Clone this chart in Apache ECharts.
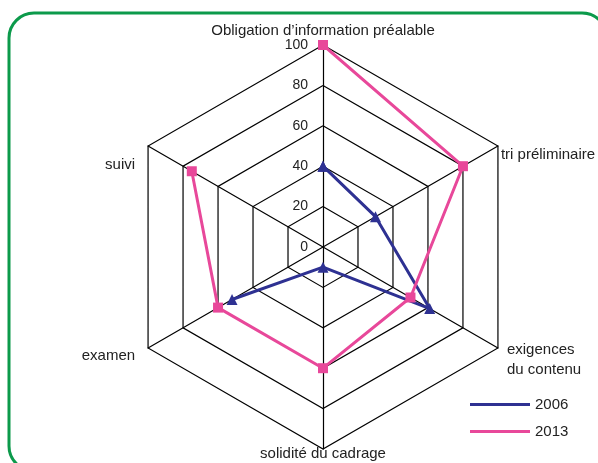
<!DOCTYPE html>
<html>
<head>
<meta charset="utf-8">
<script src="https://cdn.jsdelivr.net/npm/echarts@6/dist/echarts.min.js"></script>
<style>
html, body { margin: 0; padding: 0; background: #fff; }
#chart { width: 598px; height: 463px; }
</style>
</head>
<body>
<div id="chart"></div>
<script>
// axes, clockwise from the top
var categories = ['Obligation d\u2019information préalable', 'tri préliminaire', 'exigences\ndu contenu', 'solidité du cadrage', 'examen', 'suivi']
var ticks = [0, 20, 40, 60, 80, 100]
var values2006 = [40, 30, 61, 10, 52, null]
var values2013 = [100, 80, 50, 60, 60, 75]
var names = ['2006', '2013']
var colors = ['#2e3192', '#e8489a']

var center = [323, 247]
var radius = 202
var font = 'Liberation Sans, Arial, sans-serif'

// radar draws counter-clockwise, so flip the order after the first axis
var indicators = [categories[0]].concat(categories.slice(1).reverse()).map(function (name, i) {
    var ind = { name: name, min: ticks[0], max: ticks[ticks.length - 1] }
    if (i === 0) {
        ind.axisLabel = { show: true, color: '#222', fontSize: 14, fontFamily: font, margin: 15, padding: [4, 0, 0, 0] }
    }
    return ind
})

// nudge each axis name a little, like the original layout
var nameStyles = {
    n0: { padding: [0, 0, 1, 0] },
    n1: { padding: [17, 0, 0, 3] },
    sp: { lineHeight: 23 },
    n2: { padding: [0, 0, 0, 9], lineHeight: 20 },
    n3: { lineHeight: 9 },
    n4: { padding: [15, 13, 0, 0] },
    n5: { padding: [37, 13, 0, 0] }
}

function nameFormatter(name) {
    var i = categories.indexOf(name)
    if (i === 2) {
        // spacer line pushes the two-line label down
        return '{sp| }\n' + name.split('\n').map(function (s) {
            return '{n2|' + s + '}'
        }).join('\n')
    }
    return '{n' + i + '|' + name + '}'
}

// closed ring of [radius, angle] points for the polar line
function ring(values) {
    var pts = values.map(function (v, i) {
        return [v === null ? '-' : v, categories[i]]
    })
    pts.push([values[0], categories[0]])
    return pts
}

var chart = echarts.init(document.getElementById('chart'))
chart.setOption({
    animation: false,
    textStyle: { fontFamily: font },
    graphic: [{
        type: 'rect',
        shape: { x: 9, y: 13, width: 598, height: 458, r: 25 },
        style: { fill: 'none', stroke: '#0c9a4b', lineWidth: 3 },
        z: -1
    }],
    radar: {
        center: center,
        radius: radius,
        startAngle: 90,
        shape: 'polygon',
        splitNumber: ticks.length - 1,
        nameGap: 0,
        axisName: {
            color: '#222',
            fontSize: 15,
            fontFamily: font,
            formatter: nameFormatter,
            rich: nameStyles
        },
        axisLine: { lineStyle: { color: '#000', width: 1.2 } },
        splitLine: { lineStyle: { color: '#000', width: 1.2 } },
        splitArea: { show: false },
        indicator: indicators
    },
    polar: { center: center, radius: radius },
    angleAxis: {
        type: 'category',
        data: categories,
        startAngle: 90,
        clockwise: true,
        boundaryGap: false,
        show: false
    },
    radiusAxis: {
        type: 'value',
        min: ticks[0],
        max: ticks[ticks.length - 1],
        show: false
    },
    legend: {
        orient: 'vertical',
        left: 465,
        top: 392,
        icon: 'rect',
        itemWidth: 60,
        itemHeight: 3,
        itemGap: 12,
        textStyle: { color: '#222', fontSize: 15, fontFamily: font },
        data: names
    },
    series: [{
        name: names[0],
        type: 'line',
        coordinateSystem: 'polar',
        symbol: 'triangle',
        symbolSize: 11,
        connectNulls: false,
        color: colors[0],
        lineStyle: { width: 3, color: colors[0] },
        itemStyle: { color: colors[0] },
        data: ring(values2006)
    }, {
        name: names[1],
        type: 'line',
        coordinateSystem: 'polar',
        symbol: 'rect',
        symbolSize: 10,
        color: colors[1],
        lineStyle: { width: 3, color: colors[1] },
        itemStyle: { color: colors[1] },
        data: ring(values2013)
    }]
})
</script>
</body>
</html>
